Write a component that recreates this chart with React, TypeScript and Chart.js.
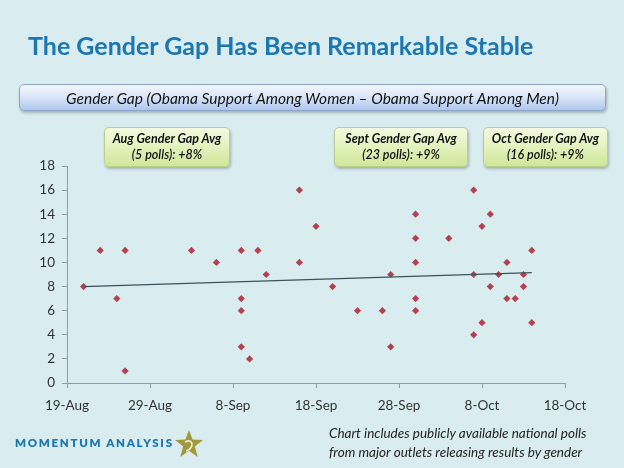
import React, { useEffect, useRef } from 'react';
import { Chart, registerables } from 'chart.js';

Chart.register(...registerables);

// ---- Data ----
const pollDates = [
  '21-Aug', '23-Aug', '25-Aug', '26-Aug', '26-Aug',
  '3-Sep', '6-Sep', '9-Sep', '9-Sep', '9-Sep', '9-Sep', '10-Sep', '11-Sep', '12-Sep',
  '16-Sep', '16-Sep', '18-Sep', '20-Sep', '23-Sep', '26-Sep', '27-Sep', '27-Sep',
  '30-Sep', '30-Sep', '30-Sep', '30-Sep', '30-Sep',
  '4-Oct', '7-Oct', '7-Oct', '7-Oct', '8-Oct', '8-Oct', '9-Oct', '9-Oct', '10-Oct',
  '11-Oct', '11-Oct', '12-Oct', '13-Oct', '13-Oct', '14-Oct', '14-Oct',
];
const genderGap = [
  8, 11, 7, 11, 1,
  11, 10, 11, 7, 6, 3, 2, 11, 9,
  16, 10, 13, 8, 6, 6, 9, 3,
  14, 12, 10, 7, 6,
  12, 16, 9, 4, 13, 5, 14, 8, 9,
  10, 7, 7, 9, 8, 11, 5,
];
const trendDates = ['21-Aug', '14-Oct'];
const trendValues = [8.0, 9.15];
const xTickLabels = ['19-Aug', '29-Aug', '8-Sep', '18-Sep', '28-Sep', '8-Oct', '18-Oct'];
const yMin = 0;
const yMax = 18;
const yStep = 2;
const baseDate = '19-Aug';

const titleText = 'The Gender Gap Has Been Remarkable Stable';
const subtitleText = 'Gender Gap (Obama Support Among Women \u2013 Obama Support Among Men)';
const boxTitles = ['Aug Gender Gap Avg', 'Sept Gender Gap Avg', 'Oct Gender Gap Avg'];
const boxLines = ['(5 polls): +8%', '(23 polls): +9%', '(16 polls): +9%'];
const footnoteLines = [
  'Chart includes publicly available national polls',
  'from major outlets releasing results by gender',
];
const logoText = 'MOMENTUM ANALYSIS';

const monthIndex: Record<string, number> = { Aug: 7, Sep: 8, Oct: 9 };
function dayOffset(label: string): number {
  const [d, m] = label.split('-');
  const [bd, bm] = baseDate.split('-');
  return (Date.UTC(2012, monthIndex[m], +d) - Date.UTC(2012, monthIndex[bm], +bd)) / 86400000;
}

const FONT = 'Lato, "Open Sans", sans-serif';
const BG = '#d9ecef';
const AXIS = '#8c9ea6';

const boxPos = [
  { left: 104, width: 126 },
  { left: 334, width: 134 },
  { left: 483, width: 125 },
];

export default function App() {
  const canvasRef = useRef<HTMLCanvasElement | null>(null);

  useEffect(() => {
    document.body.style.margin = '0';
    const ctx = canvasRef.current;
    if (!ctx) return;
    const points = pollDates.map((d, i) => ({ x: dayOffset(d), y: genderGap[i] }));
    const trend = trendDates.map((d, i) => ({ x: dayOffset(d), y: trendValues[i] }));
    const chart = new Chart(ctx, {
      type: 'scatter',
      data: {
        datasets: [
          {
            type: 'line',
            data: trend,
            borderColor: '#3a535d',
            borderWidth: 1.2,
            pointRadius: 0,
            showLine: true,
            fill: false,
          } as any,
          {
            data: points,
            pointStyle: 'rectRot',
            pointRadius: 3.6,
            backgroundColor: '#b3424f',
            borderColor: '#b3424f',
            borderWidth: 0,
          },
        ],
      },
      options: {
        animation: false,
        responsive: false,
        events: [],
        layout: { padding: { left: 0, right: 59, top: 166, bottom: 50 } },
        plugins: { legend: { display: false }, tooltip: { enabled: false } },
        scales: {
          x: {
            type: 'linear',
            min: 0,
            max: (xTickLabels.length - 1) * 10,
            afterFit: (s: any) => { s.height = 35; },
            afterBuildTicks: (s: any) => {
              s.ticks = xTickLabels.map((_, i) => ({ value: i * 10 }));
            },
            ticks: {
              callback: (v: any) => xTickLabels[Math.round(Number(v) / 10)] ?? '',
              font: { family: FONT, size: 13.5 },
              color: '#333',
              padding: 10,
              maxRotation: 0,
              autoSkip: false,
            },
            grid: { drawOnChartArea: false, tickLength: 5, color: AXIS },
            border: { color: AXIS },
          },
          y: {
            min: yMin,
            max: yMax,
            afterFit: (s: any) => { s.width = 67; },
            ticks: {
              stepSize: yStep,
              font: { family: FONT, size: 13.5 },
              color: '#333',
              padding: 7,
            },
            grid: { drawOnChartArea: false, tickLength: 5, color: AXIS },
            border: { color: AXIS },
          },
        },
      },
    });
    return () => chart.destroy();
  }, []);

  return (
    <div style={{ position: 'absolute', left: 0, top: 0, width: 624, height: 468, background: BG, overflow: 'hidden', fontFamily: FONT }}>
      <canvas ref={canvasRef} width={624} height={468} style={{ position: 'absolute', left: 0, top: 0 }} />
      <div style={{ position: 'absolute', left: 28, top: 30, fontSize: 25, fontWeight: 700, color: '#1b76b1', whiteSpace: 'nowrap' }}>
        {titleText}
      </div>
      <div style={{
        position: 'absolute', left: 19, top: 84, width: 587, height: 27, boxSizing: 'border-box',
        borderRadius: 5, border: '1px solid #8ea6c9',
        background: 'linear-gradient(#f2f6fc, #dce7f8 45%, #aec7ef)',
        boxShadow: '1px 2px 3px rgba(0,0,0,0.25)',
        display: 'flex', alignItems: 'center', justifyContent: 'center',
        fontStyle: 'italic', fontSize: 15.5, color: '#111', whiteSpace: 'nowrap',
      }}>
        {subtitleText}
      </div>
      {boxTitles.map((t, i) => (
        <div key={i} style={{
          position: 'absolute', left: boxPos[i].left, top: 127, width: boxPos[i].width, height: 40,
          boxSizing: 'border-box', borderRadius: 5, border: '1px solid #b9cf8a',
          background: 'linear-gradient(#f4fae0, #e3f2bd 50%, #cfe69b)',
          boxShadow: '1px 2px 3px rgba(0,0,0,0.25)',
          textAlign: 'center', fontStyle: 'italic', fontSize: 12.5, color: '#111', lineHeight: '16px',
          paddingTop: 3, whiteSpace: 'nowrap',
        }}>
          <div style={{ fontWeight: 700 }}>{t}</div>
          <div style={{ fontWeight: 600 }}>{boxLines[i]}</div>
        </div>
      ))}
      <div style={{ position: 'absolute', left: 15, top: 436, fontSize: 11.5, fontWeight: 800, letterSpacing: 1.7, color: '#1c77b3', whiteSpace: 'nowrap' }}>
        {logoText}
      </div>
      <svg width={30} height={28} viewBox="0 0 30 28" style={{ position: 'absolute', left: 174, top: 430 }}>
        <polygon points="15,0 18.6,9.6 29,10 20.8,16.4 23.8,27 15,20.8 6.2,27 9.2,16.4 1,10 11.4,9.6" fill="#a3983a" />
        <path d="M11,12 Q17,9 18,14 Q18,19 12,21" stroke="#e4efe6" strokeWidth={1.6} fill="none" />
      </svg>
      <div style={{ position: 'absolute', left: 329, top: 424, fontStyle: 'italic', fontSize: 13.5, lineHeight: '19px', color: '#222', whiteSpace: 'nowrap' }}>
        {footnoteLines.map((l, i) => <div key={i}>{l}</div>)}
      </div>
    </div>
  );
}
